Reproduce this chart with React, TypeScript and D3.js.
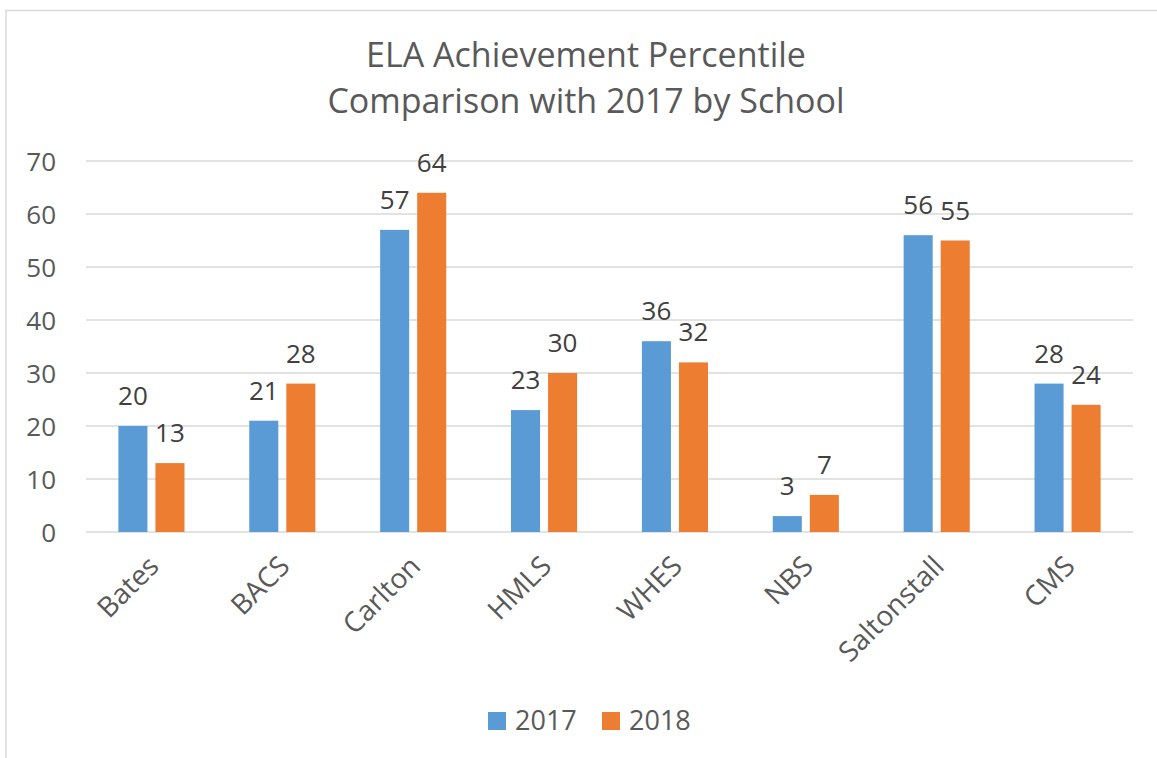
import React from "react";
import * as d3 from "d3";

const categories = ["Bates", "BACS", "Carlton", "HMLS", "WHES", "NBS", "Saltonstall", "CMS"];
const series = ["2017", "2018"];
const values2017 = [20, 21, 57, 23, 36, 3, 56, 28];
const values2018 = [13, 28, 64, 30, 32, 7, 55, 24];
const yTicks = [0, 10, 20, 30, 40, 50, 60, 70];
const titleLines = ["ELA Achievement Percentile", "Comparison with 2017 by School"];
const colors = ["#5B9BD5", "#ED7D31"];

const W = 1157;
const H = 758;
const FONT = "'Open Sans', 'DejaVu Sans', sans-serif";

export default function App() {
  const left = 86;
  const right = 1133;
  const x0 = d3.scaleBand<string>().domain(categories).range([left, right]).padding(0);
  const bw = x0.bandwidth();
  const groupW = bw * 0.505;
  const x1 = d3.scaleBand<string>().domain(series).range([0, groupW]).paddingInner(0.216);
  const y = d3.scaleLinear().domain([0, 70]).range([532, 161]);
  const seriesValues = [values2017, values2018];

  return (
    <svg width={W} height={H} style={{ position: "absolute", left: 0, top: 0, background: "#fff" }} fontFamily={FONT}>
      <rect x={0} y={0} width={W} height={H} fill="#fff" />
      <rect x={6} y={10.5} width={W + 20} height={H + 20} fill="none" stroke="#d9d9d9" strokeWidth={1.5} />
      {titleLines.map((t, i) => (
        <text key={t} x={586} y={67 + i * 46} textAnchor="middle" fontSize={34} fill="#595959">
          {t}
        </text>
      ))}
      {yTicks.map((t) => (
        <g key={t}>
          <line x1={left} x2={right} y1={y(t)} y2={y(t)} stroke="#d9d9d9" strokeWidth={1.5} />
          <text x={56} y={y(t) + 9.5} textAnchor="end" fontSize={26} fill="#595959">
            {t}
          </text>
        </g>
      ))}
      {categories.map((c, ci) => {
        const gx = (x0(c) as number) + (bw - groupW) / 2;
        return (
          <g key={c}>
            {series.map((s, si) => {
              const v = seriesValues[si][ci];
              const bx = gx + (x1(s) as number);
              return (
                <g key={s}>
                  <rect x={bx} y={y(v)} width={x1.bandwidth()} height={y(0) - y(v)} fill={colors[si]} />
                  <text x={bx + x1.bandwidth() / 2} y={y(v) - 21} textAnchor="middle" fontSize={26} fill="#404040">
                    {v}
                  </text>
                </g>
              );
            })}
            <text
              transform={`translate(${(x0(c) as number) + bw / 2 + 9},${568}) rotate(-45)`}
              textAnchor="end"
              fontSize={28}
              fill="#595959"
            >
              {c}
            </text>
          </g>
        );
      })}
      {series.map((s, i) => (
        <g key={s} transform={`translate(${488 + i * 114},712)`}>
          <rect x={0} y={0} width={18} height={18} fill={colors[i]} />
          <text x={27} y={18} fontSize={27} fill="#595959">
            {s}
          </text>
        </g>
      ))}
    </svg>
  );
}
